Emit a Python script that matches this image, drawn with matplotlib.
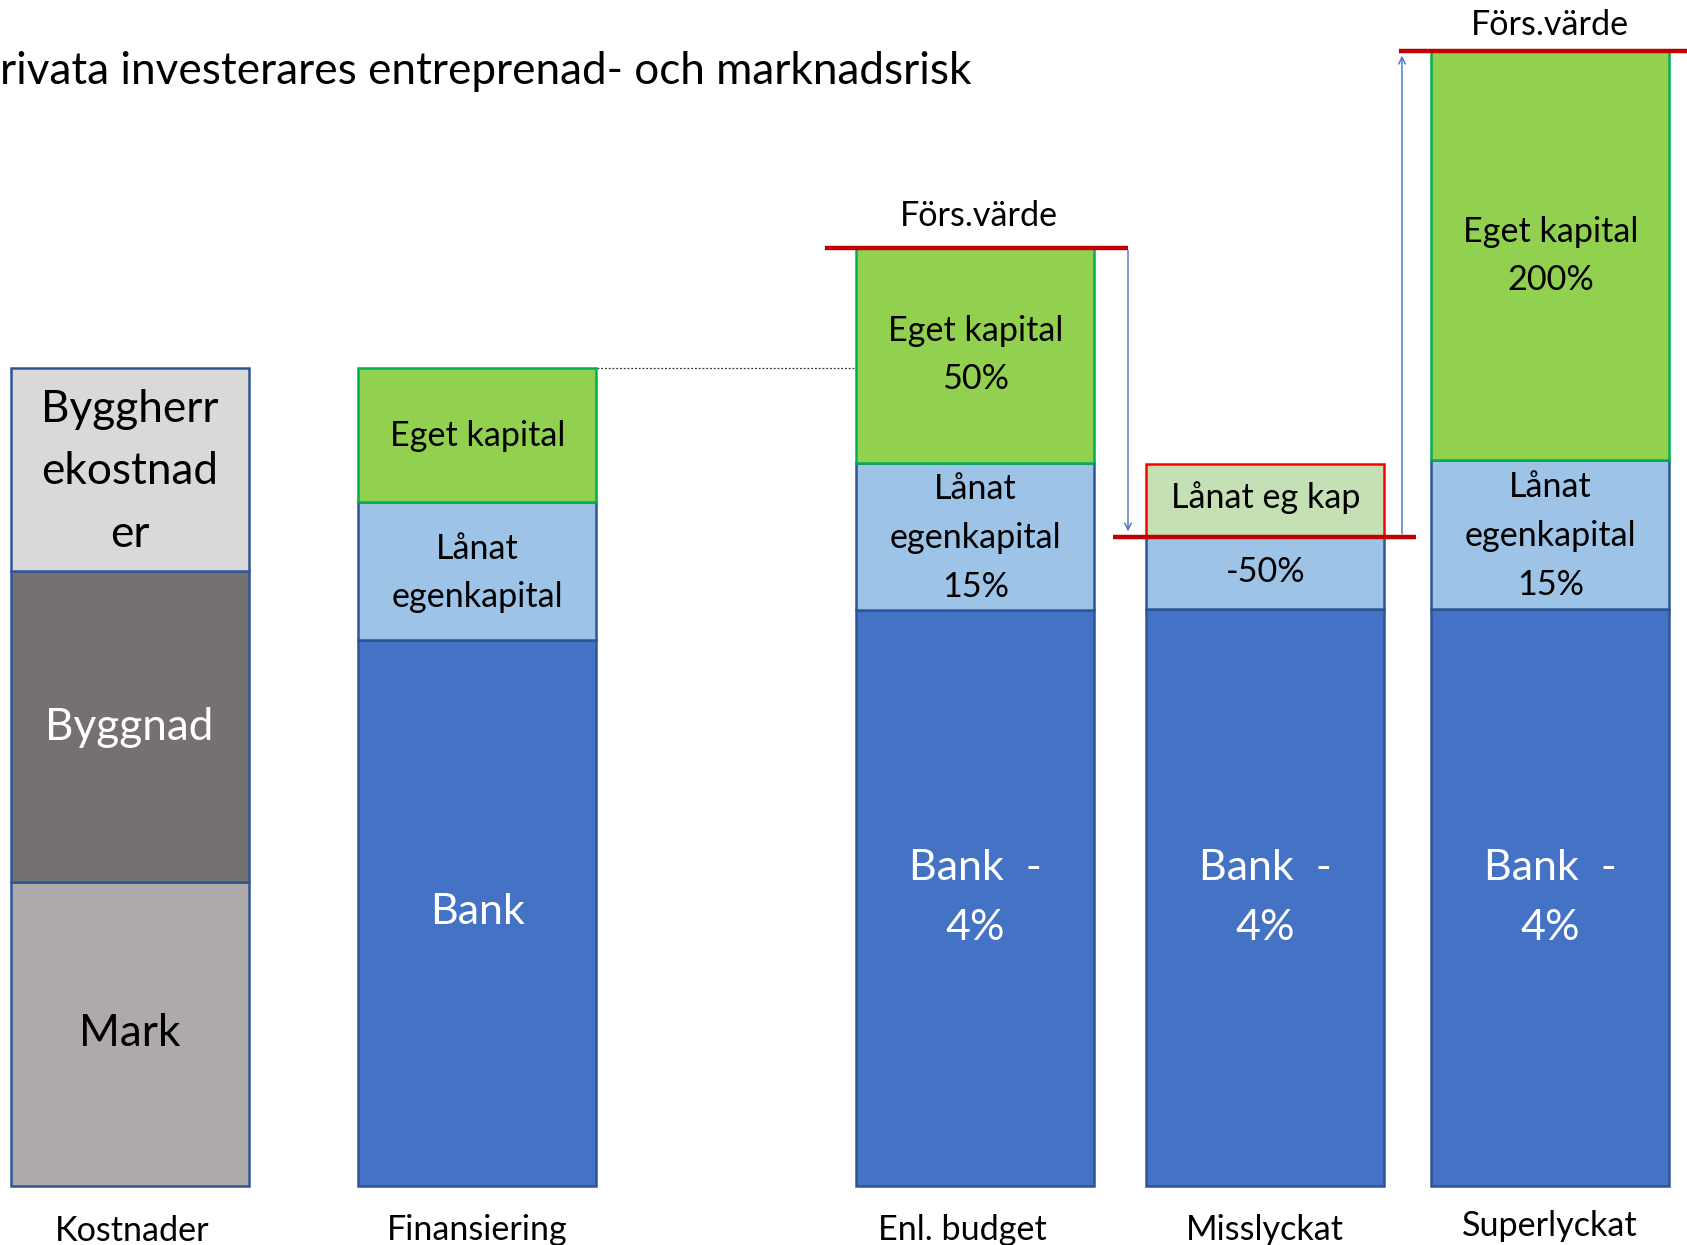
import matplotlib
matplotlib.use("Agg")
import matplotlib.pyplot as plt

# ---- data (units: building cost total = 100) ----
categories = ["Kostnader", "Finansiering", "Enl. budget", "Misslyckat", "Superlyckat"]
kostnader = [37.2, 38.0, 24.8]          # Mark, Byggnad, Byggherrekostnader
finansiering = [66.7, 16.9, 16.4]       # Bank, Lånat egenkapital, Eget kapital
enl_budget = [70.4, 18.0, 26.3]         # Bank, Lånat egenkapital, Eget kapital
misslyckat = [70.5, 8.9, 8.9]           # Bank, Lånat (-50%), Lånat eg kap (lost)
superlyckat = [70.5, 18.2, 50.1]        # Bank, Lånat egenkapital, Eget kapital

title = "rivata investerares entreprenad- och marknadsrisk"

FONT = ["Lato", "DejaVu Sans"]
plt.rcParams["font.family"] = FONT

W, H = 1687, 1245
fig = plt.figure(figsize=(W / 100, H / 100), dpi=100)
ax = fig.add_axes([0, 0, 1, 1])
PX = 8.18  # pixels per unit
base_px = 1186
ax.set_xlim(0, W)
ax.set_ylim(-(H - base_px) / PX, base_px / PX)
ax.axis("off")

xs = [129.6, 477.5, 975.5, 1265.5, 1550.5]
bw = 238

edge_blue = "#2F5597"
c_bank = "#4472C4"
c_lan = "#9DC3E6"
c_eget = "#92D050"
e_eget = "#00B050"
lw = 1.8

def seg(x, bottom, h, fc, ec):
    ax.bar(x, h, width=bw, bottom=bottom, color=fc, edgecolor=ec, linewidth=lw, zorder=2)

# Kostnader
b = 0
for h, fc in zip(kostnader, ["#AEAAAA", "#767171", "#D9D9D9"]):
    seg(xs[0], b, h, fc, edge_blue)
    b += h

# Finansiering, Enl budget, Superlyckat
for x, vals in [(xs[1], finansiering), (xs[2], enl_budget), (xs[4], superlyckat)]:
    seg(x, 0, vals[0], c_bank, edge_blue)
    seg(x, vals[0], vals[1], c_lan, edge_blue)
    seg(x, vals[0] + vals[1], vals[2], c_eget, e_eget)

# Misslyckat
seg(xs[3], 0, misslyckat[0], c_bank, edge_blue)
seg(xs[3], misslyckat[0], misslyckat[1], c_lan, edge_blue)
ax.bar(xs[3], misslyckat[2], width=bw, bottom=misslyckat[0] + misslyckat[1],
       color="#C5E0B4", edgecolor="#FF0000", linewidth=lw, zorder=2)

fin_top = sum(finansiering)
bud_top = sum(enl_budget)
miss_level = misslyckat[0] + misslyckat[1]
sup_top = sum(superlyckat)

# dotted line
ax.plot([597, 856], [fin_top, fin_top], color="#333333", lw=0.9, ls=(0, (1.5, 1.5)), zorder=1)

# red value lines
red = "#C00000"
ax.plot([825, 1128], [bud_top, bud_top], color=red, lw=3.2, solid_capstyle="butt", zorder=4)
ax.plot([1113, 1416], [miss_level, miss_level], color=red, lw=3.2, solid_capstyle="butt", zorder=4)
ax.plot([1399, W], [sup_top, sup_top], color=red, lw=3.2, solid_capstyle="butt", zorder=4)

# arrows
ax.annotate("", xy=(1128, miss_level + 0.3), xytext=(1128, bud_top),
            arrowprops=dict(arrowstyle="->", color=c_bank, lw=1.0, mutation_scale=12), zorder=3)
ax.annotate("", xy=(1402, sup_top - 0.3), xytext=(1402, miss_level),
            arrowprops=dict(arrowstyle="->", color=c_bank, lw=1.0, mutation_scale=12), zorder=3)

def ypx(p):
    return (base_px - p) / PX

def txt(x, y_px, s, size, color="black", ls=1.2):
    ax.text(x, ypx(y_px), s, ha="center", va="center", fontsize=size, color=color,
            linespacing=ls, zorder=5)

# title
ax.text(0, ypx(72), title, ha="left", va="center", fontsize=31.7, color="black")

small = 24.6
big = 31
kost = 31.8

# Kostnader labels
txt(xs[0], 472, "Byggherr\nekostnad\ner", kost, ls=1.64)
txt(xs[0], 728, "Byggnad", kost, color="white")
txt(xs[0], 1034, "Mark", kost)

# Finansiering
txt(xs[1], 436, "Eget kapital", small)
txt(xs[1], 573, "Lånat\negenkapital", small, ls=1.65)
txt(xs[1], 912, "Bank", big, color="white")

# Enl budget
txt(xs[2], 355, "Eget kapital\n50%", small, ls=1.65)
txt(xs[2], 538, "Lånat\negenkapital\n15%", small, ls=1.65)
txt(xs[2], 898, "Bank  -\n4%", big, color="white", ls=1.72)
txt(979, 216, "Förs.värde", small)

# Misslyckat
txt(xs[3], 498, "Lånat eg kap", small)
txt(xs[3], 572, "-50%", small)
txt(xs[3], 898, "Bank  -\n4%", big, color="white", ls=1.72)

# Superlyckat
txt(xs[4], 256, "Eget kapital\n200%", small, ls=1.65)
txt(xs[4], 536, "Lånat\negenkapital\n15%", small, ls=1.65)
txt(xs[4], 898, "Bank  -\n4%", big, color="white", ls=1.72)
txt(1550, 25, "Förs.värde", small)

# category labels
label_x = [132, 477, 962, 1265, 1550]
label_y = [1231, 1230, 1230, 1230, 1226]
for x, y, s in zip(label_x, label_y, categories):
    txt(x, y, s, small)

fig.savefig("out.png", dpi=100)
